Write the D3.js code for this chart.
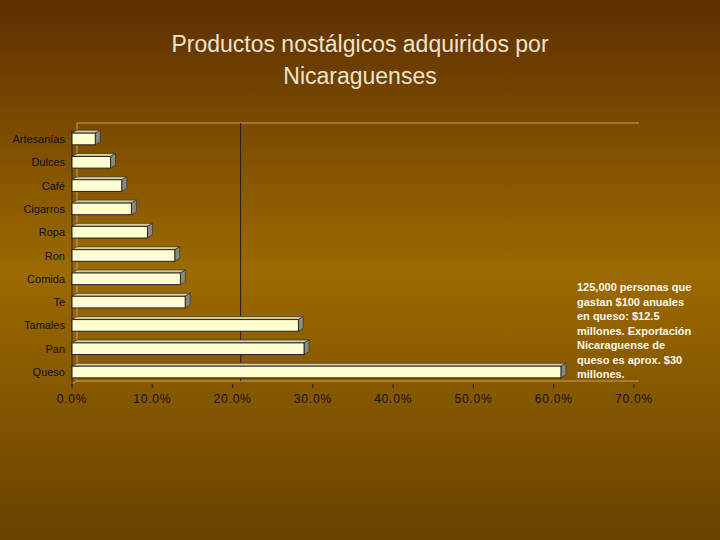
<!DOCTYPE html><html><head><meta charset="utf-8"><script src="https://cdn.jsdelivr.net/npm/d3@7"></script>
<style>body{margin:0}svg{display:block}</style></head><body><svg width="720" height="540"></svg><script>
const categories=["Artesanías","Dulces","Café","Cigarros","Ropa","Ron","Comida","Te","Tamales","Pan","Queso"];
const values=[2.9,4.8,6.2,7.4,9.4,12.8,13.5,14.1,28.2,28.9,60.9];
const ticks=[0,10,20,30,40,50,60,70];
const svg=d3.select("svg");
const defs=svg.append("defs");
const g=defs.append("linearGradient").attr("id","bg").attr("x1",0).attr("x2",0).attr("y1",0).attr("y2",1);
[[0,"#5e2f00"],[0.5,"#9c6a00"],[1,"#6a4200"]].forEach(s=>g.append("stop").attr("offset",s[0]).attr("stop-color",s[1]));
svg.append("rect").attr("width",720).attr("height",540).attr("fill","url(#bg)");
svg.append("text").attr("x",360).attr("y",52).attr("text-anchor","middle").attr("fill","#ece4cc").attr("font-family","Liberation Sans, Arial").attr("font-size",23).text("Productos nostálgicos adquiridos por");
svg.append("text").attr("x",360).attr("y",84).attr("text-anchor","middle").attr("fill","#ece4cc").attr("font-family","Liberation Sans, Arial").attr("font-size",23).text("Nicaraguenses");
const x=d3.scaleLinear().domain([0,70]).range([72,634]);
const y=d3.scaleBand().domain(categories).range([121.5,389.5]).padding(0.5);
const dx=5,dy=3;
svg.append("path").attr("d",`M${x(0)+dx},123 H${x(70)+dx} M${x(0)+dx},123 V${384-dy} L${x(0)},384`).attr("stroke","#c8a060").attr("fill","none");
svg.append("path").attr("d",`M${x(0)+dx},${384-dy} H${x(70)+dx}`).attr("stroke","#c8a060").attr("fill","none");
svg.append("line").attr("x1",x(20)+dx+3).attr("x2",x(20)+dx+3).attr("y1",123).attr("y2",384-dy).attr("stroke","#222");
svg.append("line").attr("x1",x(0)).attr("x2",x(0)).attr("y1",130).attr("y2",386).attr("stroke","#222");
const bars=svg.append("g").selectAll("g").data(categories).join("g");
bars.each(function(c,i){
 const s=d3.select(this),x1=x(values[i]),y0=y(c),h=y.bandwidth(),x0=x(0);
 s.append("path").attr("d",`M${x0},${y0} L${x0+dx},${y0-dy} H${x1+dx} L${x1},${y0} Z`).attr("fill","#d8cc98").attr("stroke","#333").attr("stroke-width",0.7);
 s.append("path").attr("d",`M${x1},${y0} L${x1+dx},${y0-dy} V${y0+h-dy} L${x1},${y0+h} Z`).attr("fill","#8a8a7a").attr("stroke","#333").attr("stroke-width",0.7);
 s.append("rect").attr("x",x0).attr("y",y0).attr("width",x1-x0).attr("height",h).attr("fill","#ffffd0").attr("stroke","#222").attr("stroke-width",1);
});
svg.append("g").selectAll("text").data(categories).join("text").attr("x",65).attr("y",c=>y(c)+y.bandwidth()/2+4).attr("text-anchor","end").attr("font-family","Liberation Sans, Arial").attr("font-size",11).attr("fill","#111").text(d=>d);
svg.append("g").selectAll("text").data(ticks).join("text").attr("x",d=>x(d)).attr("y",403).attr("text-anchor","middle").attr("font-family","Liberation Sans, Arial").attr("font-size",12).attr("letter-spacing",0.8).attr("fill","#111").text(d=>d.toFixed(1)+"%");
svg.append("g").selectAll("line").data(ticks).join("line").attr("x1",d=>x(d)).attr("x2",d=>x(d)).attr("y1",384).attr("y2",388).attr("stroke","#222");
const note=[" 125,000 personas que","gastan $100 anuales","en queso: $12.5","millones. Exportación","Nicaraguense de","queso es aprox. $30","millones."];
svg.append("g").selectAll("text").data(note).join("text").attr("x",577).attr("y",(d,i)=>291+i*14.5).attr("font-family","Liberation Sans, Arial").attr("font-weight","bold").attr("font-size",11).attr("fill","#fff8e8").text(d=>d);
</script></body></html>
